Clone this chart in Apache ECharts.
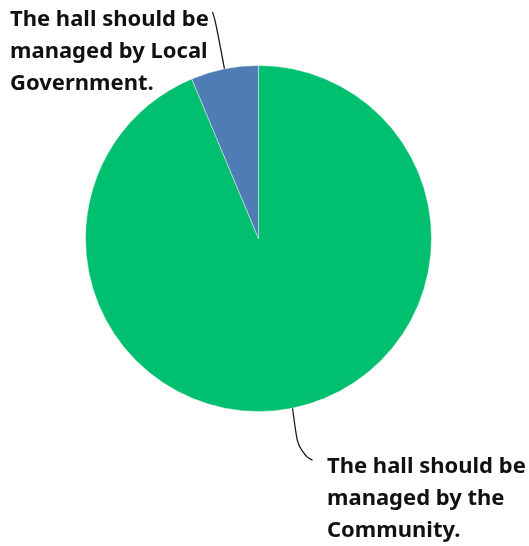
<!DOCTYPE html>
<html>
<head>
<meta charset="utf-8">
<script src="https://cdn.jsdelivr.net/npm/echarts@6/dist/echarts.min.js"></script>
<style>
html,body{margin:0;padding:0;background:#fff;}
#chart{width:529px;height:546px;}
</style>
</head>
<body>
<div id="chart"></div>
<script>
const categories = [
  "The hall should be\nmanaged by the\nCommunity.",
  "The hall should be\nmanaged by Local\nGovernment."
];
const values = [93.7, 6.3];
const colors = ["#00BF6F", "#507CB6"];

const chart = echarts.init(document.getElementById('chart'));
chart.setOption({
  animation: false,
  series: [{
    type: 'pie',
    center: [258.5, 238.5],
    radius: 173,
    startAngle: 90,
    clockwise: true,
    data: categories.map((c, i) => ({ name: c, value: values[i], itemStyle: { color: colors[i] } })),
    itemStyle: { borderColor: 'rgba(255,255,255,0.7)', borderWidth: 0.6 },
    label: {
      show: true,
      position: 'outside',
      formatter: '{b}',
      color: '#111',
      fontFamily: 'Noto Sans',
      fontWeight: 'bold',
      fontSize: 22,
      lineHeight: 32,
      align: 'left',
      overflow: 'none',
      edgeDistance: 0
    },
    labelLine: {
      show: true,
      length: 30,
      length2: 15,
      smooth: 0.6,
      lineStyle: { color: '#111', width: 1.2 }
    },
    labelLayout: function (params) {
      const p0 = params.labelLinePoints ? params.labelLinePoints[0] : [0, 0];
      if (params.dataIndex === 0) {
        return {
          x: 327, y: 451, align: 'left', verticalAlign: 'top',
          labelLinePoints: [p0, [p0[0] + 6, p0[1] + 45], [p0[0] + 20, p0[1] + 52]]
        };
      }
      return {
        x: 10, y: 4, align: 'left', verticalAlign: 'top',
        labelLinePoints: [p0, [p0[0] - 9, p0[1] - 48], [p0[0] - 12, p0[1] - 57]]
      };
    }
  }]
});
</script>
</body>
</html>
